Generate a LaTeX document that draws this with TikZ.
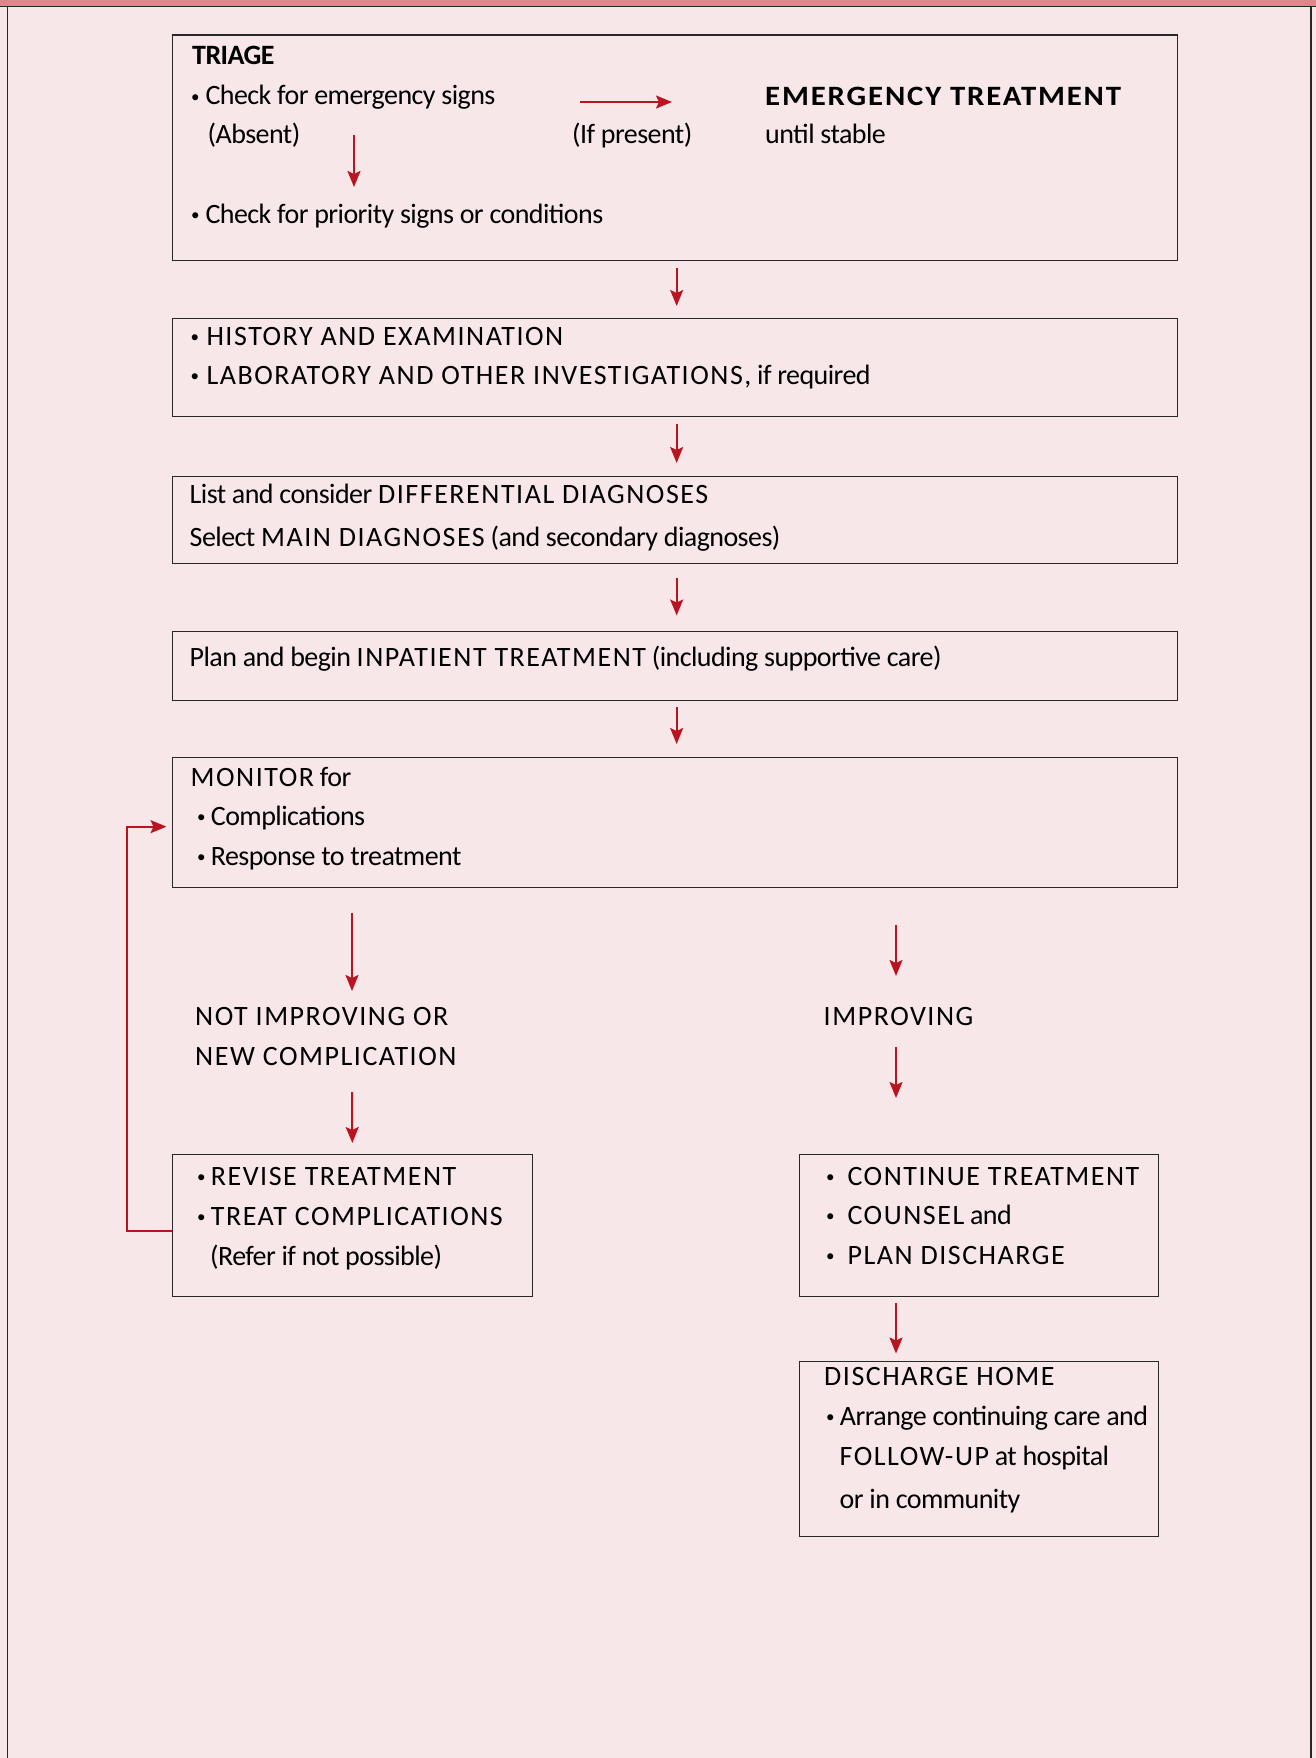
\documentclass[tikz,border=0pt]{standalone}
\usepackage{fontspec}
\setmainfont{Carlito}[LetterSpace=-2]
\newfontfamily\capsfam{Carlito}[LetterSpace=5.5]
\newfontfamily\boldcapsfam{Carlito}[LetterSpace=6]
\usetikzlibrary{arrows.meta}
\definecolor{bgpink}{RGB}{247,231,232}
\definecolor{bandpink}{RGB}{220,137,141}
\definecolor{arrred}{RGB}{184,20,34}
\definecolor{boxline}{RGB}{40,40,40}
% small bullet set in a box of the given width
\newcommand{\bl}[1]{\makebox[#1][l]{\raisebox{2.7pt}{\fontsize{17}{17}\selectfont\textbullet}}}
% capitals set with a little tracking
\newcommand{\C}[1]{{\capsfam #1}}
\begin{document}
\begin{tikzpicture}[x=1pt,y=-1pt,
  flowbox/.style={draw=boxline, line width=1.3pt, rectangle, inner sep=0pt, anchor=north west},
  txt/.style={anchor=base west, inner sep=0pt, font=\fontsize{28}{34}\selectfont, text=black},
  bold/.style={txt, font=\fontsize{28}{34}\selectfont\bfseries},
  arr/.style={draw=arrred, line width=2pt, -{Stealth[length=16pt,width=13pt,inset=3pt]}},
]
% page, header band and frame
\useasboundingbox (0,0) rectangle (1316,1758);
\fill[bgpink] (0,0) rectangle (1316,1758);
\fill[bandpink] (0,0) rectangle (1316,6.5);
\draw[boxline, line width=1.4pt] (0,6.6) -- (1316,6.6);
\draw[boxline, line width=1.5pt] (7.3,6.6) -- (7.3,1758);
\draw[boxline, line width=1.5pt] (1311,6.6) -- (1311,1758);

% boxes
\node[flowbox, minimum width=1005.5pt, minimum height=225pt] (triage) at (171.5,34.5) {};
\node[flowbox, minimum width=1005.5pt, minimum height=98pt] (hist) at (171.5,317.5) {};
\node[flowbox, minimum width=1005.5pt, minimum height=87pt] (diff) at (171.5,475.5) {};
\node[flowbox, minimum width=1005.5pt, minimum height=68.5pt] (plan) at (171.5,631) {};
\node[flowbox, minimum width=1005.5pt, minimum height=130pt] (monitor) at (171.5,757) {};
\node[flowbox, minimum width=360.5pt, minimum height=142pt] (revise) at (171.5,1154) {};
\node[flowbox, minimum width=359pt, minimum height=142pt] (cont) at (799,1154) {};
\node[flowbox, minimum width=359pt, minimum height=175pt] (disch) at (799,1361) {};

% triage texts
\node[bold] (tTriage) at (192,65) {TRIAGE};
\node[txt] (tEmSigns) at (191,105) {\bl{14.3pt}Check for emergency signs};
\node[txt] (tAbsent) at (207.5,143.5) {(Absent)};
\node[txt] (tPriority) at (191,223) {\bl{14.3pt}Check for priority signs or conditions};
\node[txt] (tPresent) at (572,143.5) {(If present)};
\node[bold] (tEmTreat) at (765,105.5) {\scalebox{1.1}[1]{\boldcapsfam EMERGENCY TREATMENT}};
\node[txt] (tStable) at (765,143.5) {until stable};

% main column texts
\node[txt] (tHist) at (190.3,345) {\bl{16pt}\C{HISTORY AND EXAMINATION}};
\node[txt] (tLab) at (190.3,384.5) {\bl{16pt}\C{LABORATORY AND OTHER INVESTIGATIONS,} if required};
\node[txt] (tDiff) at (189.5,503) {List and consider \C{DIFFERENTIAL DIAGNOSES}};
\node[txt] (tMain) at (189.5,546) {Select \C{MAIN DIAGNOSES} (and secondary diagnoses)};
\node[txt] (tPlan) at (189.5,666) {Plan and begin \C{INPATIENT TREATMENT} (including supportive care)};
\node[txt] (tMon) at (190.5,786) {\C{MONITOR} for};
\node[txt] (tCompl) at (197,825) {\bl{13.7pt}Complications};
\node[txt] (tResp) at (197,865) {\bl{13.7pt}Response to treatment};

% left branch
\node[txt] (tNot) at (195,1025) {\C{NOT IMPROVING OR}};
\node[txt] (tNew) at (195,1065) {\C{NEW COMPLICATION}};
\node[txt] (tRevise) at (197,1185) {\bl{13.7pt}\C{REVISE TREATMENT}};
\node[txt] (tTreatC) at (197,1225) {\bl{13.7pt}\C{TREAT COMPLICATIONS}};
\node[txt] (tRefer) at (210,1265) {(Refer if not possible)};

% right branch
\node[txt] (tImp) at (823.5,1025.5) {\C{IMPROVING}};
\node[txt] (tCont) at (826,1185) {\bl{21.3pt}\C{CONTINUE TREATMENT}};
\node[txt] (tCouns) at (826,1224.5) {\bl{21.3pt}\C{COUNSEL} and};
\node[txt] (tPlanD) at (826,1264.5) {\bl{21.3pt}\C{PLAN DISCHARGE}};
\node[txt] (tHome) at (824,1385) {\C{DISCHARGE HOME}};
\node[txt] (tArr) at (826,1425) {\bl{13.7pt}Arrange continuing care and};
\node[txt] (tFollow) at (839.5,1465) {\C{FOLLOW-UP} at hospital};
\node[txt] (tComm) at (839.5,1508.5) {or in community};

% arrow end points in free space
\coordinate (absA) at (354,135);
\coordinate (absB) at (354,187);
\coordinate (ifA) at (580,102);
\coordinate (ifB) at (672,102);
\coordinate (lA) at (352,913);
\coordinate (lB) at (352,991);
\coordinate (lC) at (352,1092);
\coordinate (rA) at (896,925);
\coordinate (rB) at (896,976);
\coordinate (rC) at (896,1047);
\coordinate (rD) at (896,1098);

% triage arrows
\draw[arr] (absA) -- (absB);
\draw[arr] (ifA) -- (ifB);

% main column arrows
\draw[arr, shorten <=7pt, shorten >=11.5pt] ([xshift=1.75pt]triage.south) -- ([xshift=1.75pt]hist.north);
\draw[arr, shorten <=7.5pt, shorten >=12.5pt] ([xshift=1.75pt]hist.south) -- ([xshift=1.75pt]diff.north);
\draw[arr, shorten <=14.5pt, shorten >=15.5pt] ([xshift=1.75pt]diff.south) -- ([xshift=1.75pt]plan.north);
\draw[arr, shorten <=6.5pt, shorten >=13pt] ([xshift=1.75pt]plan.south) -- ([xshift=1.75pt]monitor.north);

% not improving branch
\draw[arr] (lA) -- (lB);
\draw[arr, shorten >=11pt] (lC) -- (revise.north);
\draw[arr, shorten >=5pt] ([yshift=-5pt]revise.west) -- ++(-44.5,0) |- ([yshift=-4pt]monitor.west);

% improving branch
\draw[arr] (rA) -- (rB);
\draw[arr] (rC) -- (rD);
\draw[arr, shorten <=5.5pt, shorten >=7.5pt] (cont.south -| rA) -- (disch.north -| rA);
\end{tikzpicture}
\end{document}
